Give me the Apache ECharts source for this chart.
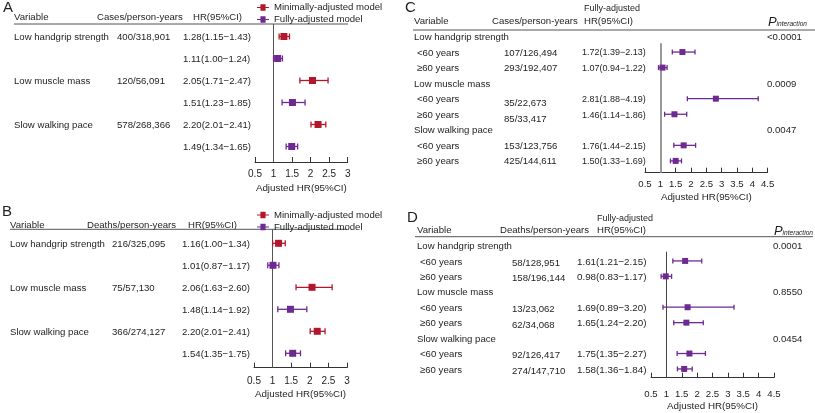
<!DOCTYPE html>
<html><head><meta charset="utf-8">
<script src="https://cdn.jsdelivr.net/npm/echarts@6/dist/echarts.min.js"></script>
<style>html,body{margin:0;padding:0;background:#fff}#c{width:815px;height:413px}</style>
</head><body><div id="c"></div>
<script>
// ---------------- Data ----------------
const groups = ['Low handgrip strength', 'Low muscle mass', 'Slow walking pace'];
const subgroups = ['<60 years', '\u226560 years'];
const modelNames = ['Minimally-adjusted model', 'Fully-adjusted model'];
const axisRangeAB = [0.5, 3];
const axisRangeCD = [0.5, 4.5];
const axisStep = 0.5;
const refHR = 1;
const axisTitle = 'Adjusted HR(95%CI)';

// Panel A (incidence)
const aCases = ['400/318,901', '120/56,091', '578/268,366'];
const aMinHR = [1.28, 2.05, 2.20], aMinLo = [1.15, 1.71, 2.01], aMinHi = [1.43, 2.47, 2.41];
const aFullHR = [1.11, 1.51, 1.49], aFullLo = [1.00, 1.23, 1.34], aFullHi = [1.24, 1.85, 1.65];

// Panel B (mortality)
const bDeaths = ['216/325,095', '75/57,130', '366/274,127'];
const bMinHR = [1.16, 2.06, 2.20], bMinLo = [1.00, 1.63, 2.01], bMinHi = [1.34, 2.60, 2.41];
const bFullHR = [1.01, 1.48, 1.54], bFullLo = [0.87, 1.14, 1.35], bFullHi = [1.17, 1.92, 1.75];

// Panel C (incidence by age)
const cCounts = ['107/126,494', '293/192,407', '35/22,673', '85/33,417', '153/123,756', '425/144,611'];
const cHR = [1.72, 1.07, 2.81, 1.46, 1.76, 1.50];
const cLo = [1.39, 0.94, 1.88, 1.14, 1.44, 1.33];
const cHi = [2.13, 1.22, 4.19, 1.86, 2.15, 1.69];
const cP = ['<0.0001', '0.0009', '0.0047'];

// Panel D (mortality by age)
const dCounts = ['58/128,951', '158/196,144', '13/23,062', '62/34,068', '92/126,417', '274/147,710'];
const dHR = [1.61, 0.98, 1.69, 1.65, 1.75, 1.58];
const dLo = [1.21, 0.83, 0.89, 1.24, 1.35, 1.36];
const dHi = [2.15, 1.17, 3.20, 2.20, 2.27, 1.84];
const dP = ['0.0001', '0.8550', '0.0454'];

// ---------------- Styling / layout ----------------
const FONT = '"Liberation Sans", Arial, Helvetica, sans-serif';
const RED = '#B2182B';
const PURPLE = '#6E2A90';
const TXT = '#1e1e1e';
const LW = 1.3;

const PANELS = [
  {left: 255, right: 347.7, top: 24, bottom: 162, row0: 36.5, sp: 22, range: axisRangeAB, margin: 7.5, lsize: 10, nameGap: 21, ref: {color: '#555', width: 1}, sq: 7, cap: 6},
  {left: 254, right: 347, top: 229.3, bottom: 367.7, row0: 243.3, sp: 22, range: axisRangeAB, margin: 9, lsize: 10, nameGap: 21.6, ref: {color: '#555', width: 1}, sq: 7, cap: 6},
  {left: 645, right: 767.7, top: 43.3, bottom: 172.7, row0: 36.5, sp: 15.55, range: axisRangeCD, margin: 7, lsize: 9.6, nameGap: 20, ref: {color: '#999', width: 2}, sq: 6, cap: 5},
  {left: 651, right: 774, top: 251.7, bottom: 377.7, row0: 245.5, sp: 15.43, range: axisRangeCD, margin: 12, lsize: 9.6, nameGap: 24, ref: {color: '#444', width: 1}, sq: 6, cap: 5}
];

function makeRender(color, sq, cap) {
  return function (params, api) {
    const r = api.value(3);
    const c = api.coord([api.value(0), r]);
    const lo = api.coord([api.value(1), r]);
    const hi = api.coord([api.value(2), r]);
    const y = c[1];
    const st = {stroke: color, lineWidth: LW};
    return {type: 'group', children: [
      {type: 'line', shape: {x1: lo[0], y1: y, x2: hi[0], y2: y}, style: st},
      {type: 'line', shape: {x1: lo[0], y1: y - cap / 2, x2: lo[0], y2: y + cap / 2}, style: st},
      {type: 'line', shape: {x1: hi[0], y1: y - cap / 2, x2: hi[0], y2: y + cap / 2}, style: st},
      {type: 'rect', shape: {x: c[0] - sq / 2, y: y - sq / 2, width: sq, height: sq}, style: {fill: color}}
    ]};
  };
}

function errSeries(name, gi, hr, lo, hi, rows, color, withRef) {
  const p = PANELS[gi];
  const s = {
    type: 'custom', name: name, xAxisIndex: gi, yAxisIndex: gi, z: 3,
    itemStyle: {color: color},
    renderItem: makeRender(color, p.sq, p.cap),
    encode: {x: [0, 1, 2], y: 3},
    clip: false,
    data: hr.map((v, i) => [v, lo[i], hi[i], rows[i]])
  };
  if (withRef) {
    s.markLine = {silent: true, z: 1, symbol: ['none', 'none'], label: {show: false},
      lineStyle: {color: p.ref.color, width: p.ref.width, type: 'solid'},
      emphasis: {disabled: true}, animation: false, data: [{xAxis: refHR}]};
  }
  return s;
}

const rowsMin = groups.map((g, i) => 2 * i);
const rowsFull = groups.map((g, i) => 2 * i + 1);
const rowsSub = [];
groups.forEach((g, i) => subgroups.forEach((s, j) => rowsSub.push(3 * i + 1 + j)));

const grids = PANELS.map(p => ({left: p.left, top: p.top, width: p.right - p.left, height: p.bottom - p.top, containLabel: false, outerBoundsMode: 'none'}));
const xAxes = PANELS.map((p, i) => ({
  type: 'value', gridIndex: i, min: p.range[0], max: p.range[1], interval: axisStep,
  axisLine: {show: true, onZero: false, lineStyle: {color: '#333', width: 1}},
  axisTick: {show: true, inside: true, length: 5, lineStyle: {color: '#333', width: 1}},
  axisLabel: {margin: p.margin, fontSize: p.lsize, color: TXT, fontFamily: FONT, showMinLabel: true, showMaxLabel: true},
  splitLine: {show: false},
  name: axisTitle, nameLocation: 'middle', nameGap: p.nameGap,
  nameTextStyle: {fontSize: 9.8, color: TXT, fontFamily: FONT}
}));
const yAxes = PANELS.map((p, i) => ({
  type: 'value', gridIndex: i, inverse: true, show: false,
  min: (p.top - p.row0) / p.sp, max: (p.bottom - p.row0) / p.sp,
  splitLine: {show: false}
}));

const legendIcon = 'path://M0,4.3H4V1.2H10V4.3H14V5.7H10V8.8H4V5.7H0Z';
function legendAt(top) {
  return {
    top: top, left: 257, orient: 'vertical', itemWidth: 12, itemHeight: 8, itemGap: 2,
    padding: 0, selectedMode: false,
    textStyle: {fontSize: 9.6, color: TXT, fontFamily: FONT},
    data: modelNames.map(n => ({name: n, icon: legendIcon}))
  };
}

const chart = echarts.init(document.getElementById('c'));
chart.setOption({
  animation: false,
  textStyle: {fontFamily: FONT},
  grid: grids, xAxis: xAxes, yAxis: yAxes,
  legend: [legendAt(2.5), legendAt(210)],
  series: [
    errSeries(modelNames[0], 0, aMinHR, aMinLo, aMinHi, rowsMin, RED, true),
    errSeries(modelNames[1], 0, aFullHR, aFullLo, aFullHi, rowsFull, PURPLE, false),
    errSeries(modelNames[0], 1, bMinHR, bMinLo, bMinHi, rowsMin, RED, true),
    errSeries(modelNames[1], 1, bFullHR, bFullLo, bFullHi, rowsFull, PURPLE, false),
    errSeries('Fully-adjusted (age)', 2, cHR, cLo, cHi, rowsSub, PURPLE, true),
    errSeries('Fully-adjusted (age) ', 3, dHR, dLo, dHi, rowsSub, PURPLE, true)
  ]
});

// ---------------- Table text ----------------
const fmt = (h, l, u) => h.toFixed(2) + '(' + l.toFixed(2) + '\u2212' + u.toFixed(2) + ')';
const rowY = (gi, r) => chart.convertToPixel({yAxisIndex: gi}, r);
function T(x, y, text, extra) {
  return {type: 'text', x: x, y: y, silent: true,
    style: Object.assign({text: text, fontSize: 9.6, fontFamily: FONT, fill: TXT, align: 'left', verticalAlign: 'middle'}, extra || {})};
}
function HL(x1, x2, y) {
  return {type: 'line', silent: true, shape: {x1: x1, y1: y, x2: x2, y2: y}, style: {stroke: '#555', lineWidth: 1}};
}
function pInter(x, y) {
  return {type: 'text', x: x, y: y, silent: true, style: {
    text: '{p|P}{s|interaction}', align: 'right', verticalAlign: 'middle', fill: TXT,
    rich: {p: {fontSize: 13, fontStyle: 'italic', fontFamily: FONT, fill: TXT, verticalAlign: 'bottom', lineHeight: 14},
           s: {fontSize: 6.6, fontStyle: 'italic', fontFamily: FONT, fill: TXT, verticalAlign: 'bottom', lineHeight: 9, padding: [0, 0, 1, 0]}}
  }};
}

const G = [];
// Panel A
G.push(T(3, 8, 'A', {fontSize: 15}));
G.push(T(14, 17, 'Variable'), T(97, 17, 'Cases/person-years'), T(193, 17, 'HR(95%CI)'));
G.push(HL(14, 348, 24));
groups.forEach((g, i) => {
  const y0 = rowY(0, 2 * i) + 0.5, y1 = rowY(0, 2 * i + 1) + 0.5;
  G.push(T(14, y0, g), T(117, y0, aCases[i]), T(183, y0, fmt(aMinHR[i], aMinLo[i], aMinHi[i])), T(183, y1, fmt(aFullHR[i], aFullLo[i], aFullHi[i])));
});
// Panel B
G.push(T(2, 212, 'B', {fontSize: 15}));
G.push(T(10, 225, 'Variable'), T(87, 225, 'Deaths/person-years'), T(188, 225, 'HR(95%CI)'));
G.push(HL(10, 347, 229.3));
groups.forEach((g, i) => {
  const y0 = rowY(1, 2 * i) + 0.7, y1 = rowY(1, 2 * i + 1) + 0.7;
  G.push(T(10, y0, g), T(112, y0, bDeaths[i]), T(182, y0, fmt(bMinHR[i], bMinLo[i], bMinHi[i])), T(182, y1, fmt(bFullHR[i], bFullLo[i], bFullHi[i])));
});
// Panel C
G.push(T(405, 8, 'C', {fontSize: 15}));
G.push(T(584, 8.3, 'Fully-adjusted', {fontSize: 9}));
G.push(T(414, 21.7, 'Variable'), T(492, 21.7, 'Cases/person-years'), T(584, 21.7, 'HR(95%CI)'));
G.push(pInter(807, 21.5));
G.push(HL(413, 815, 30));
groups.forEach((g, i) => {
  const yg = rowY(2, 3 * i) + 0.8;
  G.push(T(414, yg, g), T(767, yg, cP[i]));
  subgroups.forEach((s, j) => {
    const k = 2 * i + j;
    const y = rowY(2, 3 * i + 1 + j) + 0.8;
    G.push(T(417, y, s), T(504, y + (i === 1 ? 4 : 0), cCounts[k]), T(582, y, fmt(cHR[k], cLo[k], cHi[k]), {fontSize: 9}));
  });
});
// Panel D
G.push(T(407, 218, 'D', {fontSize: 15}));
G.push(T(597, 219, 'Fully-adjusted', {fontSize: 9}));
G.push(T(417, 230.7, 'Variable'), T(500, 230.7, 'Deaths/person-years'), T(597, 230.7, 'HR(95%CI)'));
G.push(pInter(813, 230.5));
G.push(HL(415, 813, 236.7));
groups.forEach((g, i) => {
  const yg = rowY(3, 3 * i) + 1;
  G.push(T(417, yg, g), T(773, yg, dP[i]));
  subgroups.forEach((s, j) => {
    const k = 2 * i + j;
    const y = rowY(3, 3 * i + 1 + j) + 1;
    G.push(T(420, y, s), T(512, y + 1.2, dCounts[k]), T(577, y, fmt(dHR[k], dLo[k], dHi[k]), {fontSize: 9.8}));
  });
});
chart.setOption({graphic: G});
</script>
</body></html>
